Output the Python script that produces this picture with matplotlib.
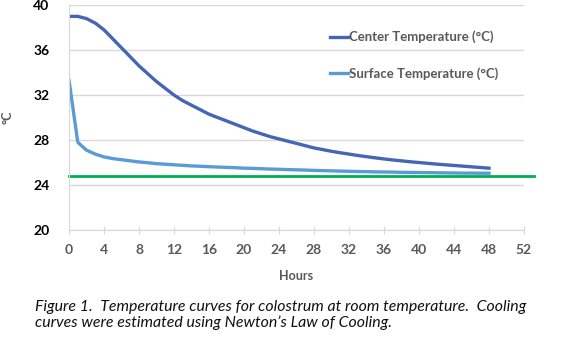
import numpy as np
import matplotlib.pyplot as plt

hours = list(range(0, 49))
center_temp = [39.0, 39.0, 38.8, 38.4, 37.8, 37.0, 36.2, 35.4, 34.6, 33.9,
               33.2, 32.6, 32.0, 31.5, 31.1, 30.7, 30.3, 30.0, 29.7, 29.4,
               29.1, 28.8, 28.55, 28.3, 28.1, 27.9, 27.7, 27.5, 27.3, 27.15,
               27.0, 26.87, 26.75, 26.63, 26.52, 26.42, 26.32, 26.23, 26.15, 26.07,
               26.0, 25.93, 25.86, 25.8, 25.74, 25.68, 25.62, 25.56, 25.5]
surface_temp = [33.3, 27.8, 27.1, 26.75, 26.5, 26.35, 26.25, 26.15, 26.05, 25.98,
                25.9, 25.85, 25.8, 25.75, 25.7, 25.67, 25.63, 25.6, 25.57, 25.54,
                25.5, 25.48, 25.45, 25.42, 25.4, 25.37, 25.35, 25.33, 25.3, 25.28,
                25.26, 25.24, 25.22, 25.2, 25.19, 25.17, 25.16, 25.15, 25.13, 25.12,
                25.11, 25.1, 25.09, 25.08, 25.07, 25.06, 25.06, 25.05, 25.05]
room_temp = 24.8
xticks = list(range(0, 53, 4))
yticks = [20, 24, 28, 32, 36, 40]
caption = ("Figure 1.  Temperature curves for colostrum at room temperature.  Cooling\n"
           "curves were estimated using Newton\u2019s Law of Cooling.")

plt.rcParams['font.family'] = ['Lato', 'DejaVu Sans']
grey = '#595959'

fig = plt.figure(figsize=(5.63, 3.41), dpi=100)
ax = fig.add_axes([0.1226, 0.3255, 0.8081, 0.6595])

ax.plot(hours, center_temp, color='#4466b4', lw=2.4, label='Center Temperature (\u00b0C)')
ax.plot(hours, surface_temp, color='#5b9bd5', lw=2.4, label='Surface Temperature (\u00b0C)')
ax.plot([0, 53.2], [room_temp, room_temp], color='#00b050', lw=2, clip_on=False)

ax.set_xlim(0, 52)
ax.set_ylim(20, 40)
ax.set_xticks(xticks)
ax.set_yticks(yticks)
ax.grid(axis='y', color='#d9d9d9', lw=1)
ax.set_axisbelow(True)
for s in ['top', 'right']:
    ax.spines[s].set_visible(False)
ax.spines['left'].set_color('#d9d9d9')
ax.spines['bottom'].set_color('#d9d9d9')
ax.tick_params(axis='x', direction='inout', length=6, color='#d9d9d9',
               labelcolor=grey, labelsize=10, pad=7)
ax.tick_params(axis='y', length=0, labelsize=10, pad=14)
for lab in ax.get_xticklabels() + ax.get_yticklabels():
    lab.set_fontweight('bold')

ax.set_xlabel('Hours', fontsize=9, fontweight='bold', color=grey, labelpad=10)
ax.set_ylabel('\u00b0C', fontsize=9, fontweight='bold', color=grey, labelpad=14)

leg = ax.legend(loc='upper left', bbox_to_anchor=(0.563, 0.91), frameon=False,
                borderaxespad=0, handlelength=1.3, handletextpad=0.1, labelspacing=1.8,
                prop={'size': 9.5, 'weight': 'bold'})
for t in leg.get_texts():
    t.set_color(grey)

fig.text(0.062, 0.04, caption, fontsize=11.4, style='italic', color='#111111',
         linespacing=1.15)

fig.savefig('out.png', dpi=100)
